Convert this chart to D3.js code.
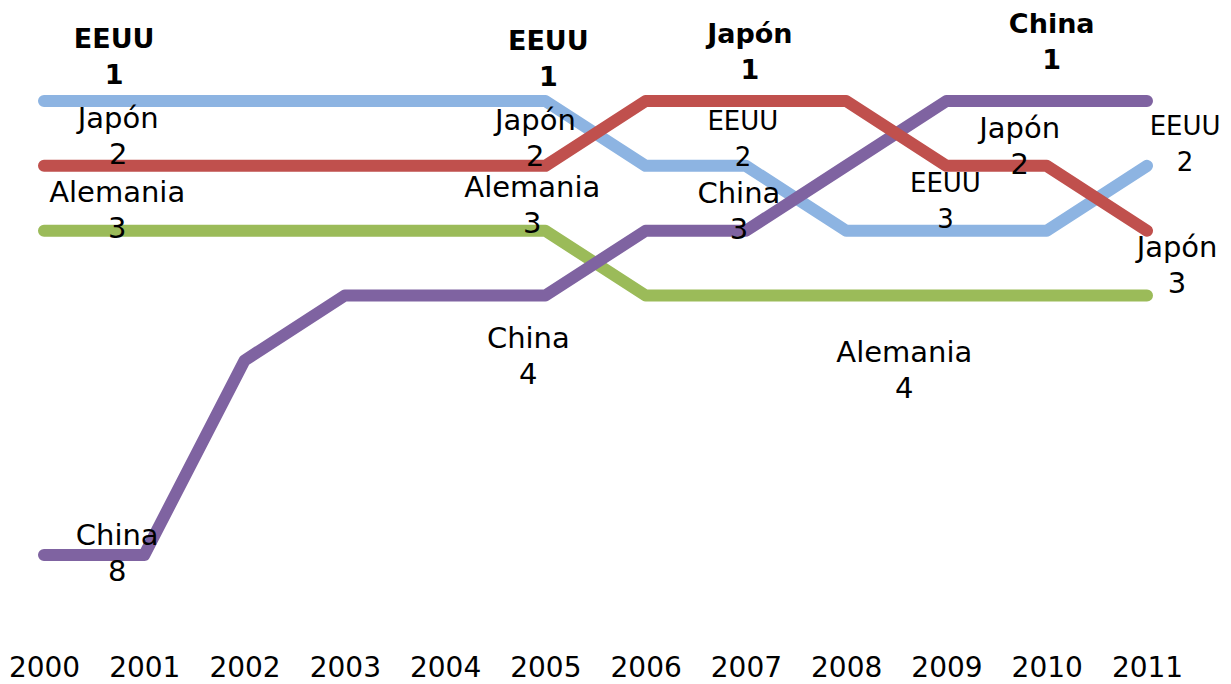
<!DOCTYPE html>
<html>
<head>
<meta charset="utf-8">
<script src="https://cdn.jsdelivr.net/npm/d3@7"></script>
<style>
  html, body { margin: 0; padding: 0; background: #ffffff; }
  svg { display: block; }
  .lbl { font-family: "DejaVu Sans", Verdana, sans-serif; fill: #000; text-anchor: middle; }
  .axis text { font-family: "DejaVu Sans", sans-serif; font-size: 28px; fill: #000; }
</style>
</head>
<body>
<svg id="chart" width="1231" height="684"></svg>
<script>
// Years on the horizontal axis
const years = [2000, 2001, 2002, 2003, 2004, 2005, 2006, 2007, 2008, 2009, 2010, 2011];

// Ranking position of each economy per year (1 = largest)
const rankEEUU     = [1, 1, 1, 1, 1, 1, 2, 2, 3, 3, 3, 2];
const rankJapon    = [2, 2, 2, 2, 2, 2, 1, 1, 1, 2, 2, 3];
const rankAlemania = [3, 3, 3, 3, 3, 3, 4, 4, 4, 4, 4, 4];
const rankChina    = [8, 8, 5, 4, 4, 4, 3, 3, 2, 1, 1, 1];

const countries = ["Alemania", "EEUU", "China", "Japón"];   // drawing order, bottom to top
const ranks = { "EEUU": rankEEUU, "Japón": rankJapon, "Alemania": rankAlemania, "China": rankChina };
const colors = { "EEUU": "#8db4e2", "Japón": "#c0504d", "Alemania": "#9bbb59", "China": "#7f63a1" };

// Callouts: country, stated rank, anchor (fractional year, fractional rank), leader in bold
const notes = [
  { name: "EEUU",     rank: 1, year: 2000.70, at: 0.18,  lead: true },
  { name: "Japón",    rank: 2, year: 2000.74, at: 1.42 },
  { name: "Alemania", rank: 3, year: 2000.73, at: 2.56 },
  { name: "China",    rank: 8, year: 2000.73, at: 7.85 },
  { name: "EEUU",     rank: 1, year: 2005.03, at: 0.21,  lead: true },
  { name: "Japón",    rank: 2, year: 2004.90, at: 1.45 },
  { name: "Alemania", rank: 3, year: 2004.87, at: 2.48 },
  { name: "China",    rank: 4, year: 2004.83, at: 4.81 },
  { name: "Japón",    rank: 1, year: 2007.04, at: 0.11,  lead: true },
  { name: "EEUU",     rank: 2, year: 2006.97, at: 1.45,  small: true },
  { name: "China",    rank: 3, year: 2006.93, at: 2.57 },
  { name: "EEUU",     rank: 3, year: 2008.99, at: 2.40,  small: true },
  { name: "Alemania", rank: 4, year: 2008.58, at: 5.02 },
  { name: "China",    rank: 1, year: 2010.05, at: -0.05, lead: true },
  { name: "Japón",    rank: 2, year: 2009.73, at: 1.57 },
  { name: "EEUU",     rank: 2, year: 2011.38, at: 1.52,  small: true },
  { name: "Japón",    rank: 3, year: 2011.30, at: 3.40 }
];

const svg = d3.select("#chart");

const x = d3.scaleLinear().domain([2000, 2011]).range([44, 1147]);
const y = d3.scaleLinear().domain([1, 8]).range([101, 555]);

const line = d3.line()
  .x(d => x(d.year))
  .y(d => y(d.rank));

// Ranking lines
svg.append("g")
  .selectAll("path")
  .data(countries)
  .join("path")
  .attr("d", c => line(years.map((yr, i) => ({ year: yr, rank: ranks[c][i] }))))
  .attr("fill", "none")
  .attr("stroke", c => colors[c])
  .attr("stroke-width", 12)
  .attr("stroke-linecap", "round")
  .attr("stroke-linejoin", "round");

// Year axis
const axis = svg.append("g")
  .attr("class", "axis")
  .attr("transform", "translate(0,657)")
  .call(d3.axisBottom(x).tickValues(years).tickFormat(d3.format("d")).tickSize(0).tickPadding(0));
axis.select(".domain").remove();

// Country / rank callouts
const lab = svg.append("g")
  .selectAll("text")
  .data(notes)
  .join("text")
  .attr("class", "lbl")
  .attr("x", d => x(d.year))
  .attr("y", d => y(d.at))
  .style("font-weight", d => d.lead ? "bold" : "normal")
  .style("font-size", d => d.lead ? "27px" : (d.small ? "26px" : "29px"));

lab.append("tspan")
  .attr("x", d => x(d.year))
  .text(d => d.name);

lab.append("tspan")
  .attr("x", d => x(d.year))
  .attr("dy", 36)
  .text(d => d.rank);
</script>
</body>
</html>
